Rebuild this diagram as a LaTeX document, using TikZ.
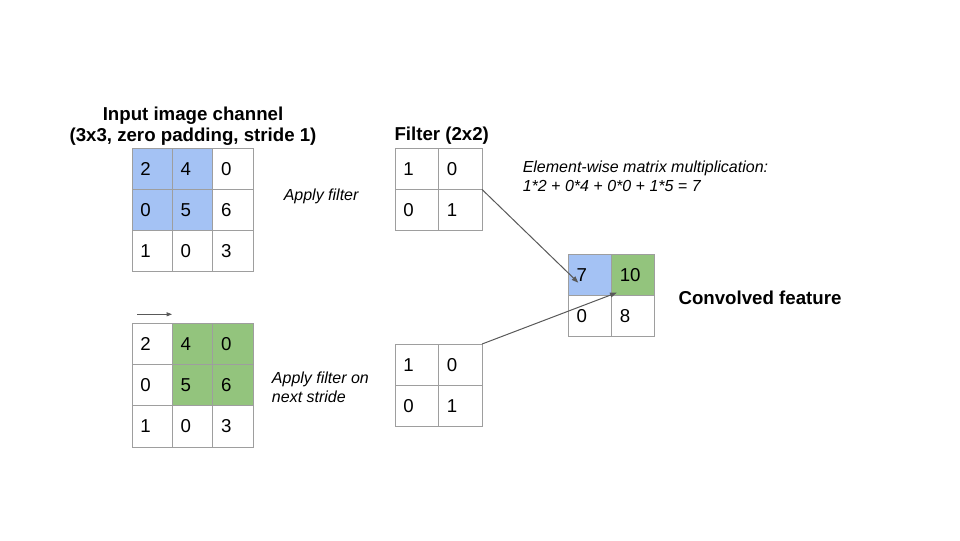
\documentclass[tikz,border=0pt]{standalone}
\usepackage{fontspec}
\setmainfont{Liberation Sans}
\usetikzlibrary{arrows.meta}
\definecolor{gridgray}{HTML}{9E9E9E}
\definecolor{arrowgray}{HTML}{595959}
\definecolor{cblue}{HTML}{A4C2F4}
\definecolor{cgreen}{HTML}{93C47D}
\begin{document}
\begin{tikzpicture}[x=0.75pt,y=-0.75pt,
  cellbase/.style={draw=gridgray, line width=0.75pt, outer sep=0pt, inner ysep=0pt,
    inner xsep=6.2pt, minimum height=30.9pt, align=left, anchor=north west,
    font=\fontsize{14}{16}\selectfont},
  gcell/.style={cellbase, minimum width=30.3pt, text width=17.9pt},
  fcell/.style={cellbase, minimum width=32.6pt, text width=20.2pt},
  ocell/.style={cellbase, minimum width=32.25pt, text width=19.85pt},
  boldlabel/.style={font=\fontsize{14}{15.5}\selectfont\bfseries, inner sep=0pt},
  itlabel/.style={font=\fontsize{12}{14}\selectfont\itshape, inner sep=0pt, align=left},
  conn/.style={draw=arrowgray, line width=0.75pt, -{Triangle[length=5pt,width=3.6pt]}}
]
\useasboundingbox (0,0) rectangle (960,540);

% title
\node[boldlabel, align=center, anchor=base] (title) at (193,141.5)
  {Input image channel\\(3x3, zero padding, stride 1)};

% input grid 1
\node[gcell, fill=cblue] (a11) at (132,148.3) {2};
\node[gcell, fill=cblue] (a12) at (172.4,148.3) {4};
\node[gcell] (a13) at (212.8,148.3) {0};
\node[gcell, fill=cblue] (a21) at (132,189.4) {0};
\node[gcell, fill=cblue] (a22) at (172.4,189.4) {5};
\node[gcell] (a23) at (212.8,189.4) {6};
\node[gcell] (a31) at (132,230.5) {1};
\node[gcell] (a32) at (172.4,230.5) {0};
\node[gcell] (a33) at (212.8,230.5) {3};

% input grid 2
\node[gcell] (b11) at (132,323.3) {2};
\node[gcell, fill=cgreen] (b12) at (172.4,323.3) {4};
\node[gcell, fill=cgreen] (b13) at (212.8,323.3) {0};
\node[gcell] (b21) at (132,364.6) {0};
\node[gcell, fill=cgreen] (b22) at (172.4,364.6) {5};
\node[gcell, fill=cgreen] (b23) at (212.8,364.6) {6};
\node[gcell] (b31) at (132,405.9) {1};
\node[gcell] (b32) at (172.4,405.9) {0};
\node[gcell] (b33) at (212.8,405.9) {3};

% stride arrow
\coordinate (s1) at (137,314.3);
\coordinate (s2) at (172,314.3);
\draw[draw=arrowgray, line width=0.6pt, -{Triangle[length=4pt,width=3pt]}] (s1) -- (s2);

% labels
\node[itlabel, anchor=base west] (apply1) at (283.5,200) {Apply filter};
\node[itlabel, anchor=base west] (apply2) at (271.7,402) {Apply filter on\\next stride};

% filter 1
\node[boldlabel, anchor=base west] (ftitle) at (394.3,140) {Filter (2x2)};
\node[fcell] (f11) at (395,148.3) {1};
\node[fcell] (f12) at (438.6,148.3) {0};
\node[fcell] (f21) at (395,189.2) {0};
\node[fcell] (f22) at (438.6,189.2) {1};

% filter 2
\node[fcell] (g11) at (395,344) {1};
\node[fcell] (g12) at (438.6,344) {0};
\node[fcell] (g21) at (395,385.3) {0};
\node[fcell] (g22) at (438.6,385.3) {1};

% element-wise text
\node[itlabel, anchor=base west] (elem) at (522.5,191)
  {Element-wise matrix multiplication:\\1*2 + 0*4 + 0*0 + 1*5 = 7};

% output
\node[ocell, fill=cblue] (o11) at (568.3,254.3) {7};
\node[ocell, fill=cgreen] (o12) at (611.5,254.3) {10};
\node[ocell] (o21) at (568.3,295.5) {0};
\node[ocell] (o22) at (611.5,295.5) {8};

\node[boldlabel, anchor=base west] (conv) at (678.3,304) {Convolved feature};

% connectors
\coordinate (e1) at (578.3,282.7);
\coordinate (e2) at (616.7,292.7);
\draw[conn] (f12.south east) -- (e1);
\draw[conn] (g12.north east) -- (e2);
\end{tikzpicture}
\end{document}
